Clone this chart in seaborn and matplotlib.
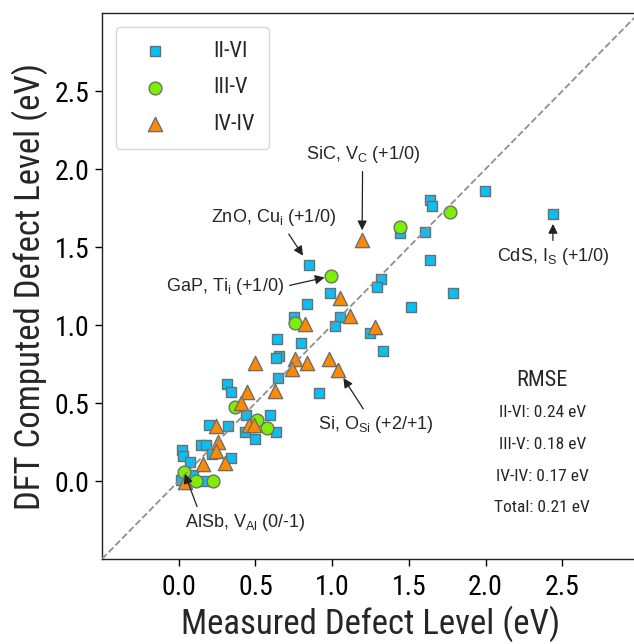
import matplotlib
matplotlib.use("Agg")
import numpy as np
import pandas as pd
import seaborn as sns
import matplotlib.pyplot as plt
from matplotlib import font_manager

# ---------------- data ----------------
ii_vi_measured = [1.995, 1.636, 1.65, 1.445, 1.604, 1.64, 2.44, 0.85, 1.32, 1.295,
                  1.79, 0.984, 0.836, 1.512, 1.05, 1.017, 1.245, 1.332, 0.75, 0.643,
                  0.795, 0.654, 0.637, 0.647, 0.915, 0.315, 0.343, 0.44, 0.593, 0.637,
                  0.43, 0.495, 0.195, 0.318, 0.148, 0.18, 0.22, 0.022, 0.028, 0.072,
                  0.343, 0.018, 0.09, 0.17]
ii_vi_dft = [1.86, 1.80, 1.76, 1.588, 1.598, 1.417, 1.71, 1.385, 1.293, 1.245,
             1.203, 1.203, 1.133, 1.117, 1.049, 0.996, 0.947, 0.833, 1.053, 0.91,
             0.887, 0.803, 0.787, 0.658, 0.562, 0.622, 0.572, 0.423, 0.423, 0.316,
             0.316, 0.27, 0.362, 0.35, 0.231, 0.231, 0.17, 0.199, 0.16, 0.124,
             0.146, 0.006, 0.04, 0.0]

iii_v_measured = [1.767, 1.445, 0.995, 0.76, 0.365, 0.51, 0.576, 0.033, 0.113, 0.226]
iii_v_dft = [1.726, 1.626, 1.314, 1.015, 0.476, 0.393, 0.342, 0.06, -0.002, -0.002]

iv_iv_measured = [1.195, 1.054, 1.115, 0.821, 1.278, 0.497, 0.756, 0.836, 0.741, 0.978,
                  1.039, 0.63, 0.443, 0.409, 0.46, 0.49, 0.241, 0.256, 0.246, 0.158,
                  0.304, 0.039]
iv_iv_dft = [1.545, 1.175, 1.06, 1.006, 0.989, 0.758, 0.78, 0.758, 0.718, 0.78,
             0.712, 0.579, 0.568, 0.498, 0.362, 0.362, 0.35, 0.252, 0.19, 0.111,
             0.115, -0.004]

group_names = ["II-VI", "III-V", "IV-IV"]
x_ticks = [0.0, 0.5, 1.0, 1.5, 2.0, 2.5]
y_ticks = [0.0, 0.5, 1.0, 1.5, 2.0, 2.5]
rmse_labels = ["II-VI: 0.24 eV", "III-V: 0.18 eV", "IV-IV: 0.17 eV", "Total: 0.21 eV"]

# ---------------- fonts ----------------
sns.set_style("ticks")
installed = {f.name for f in font_manager.fontManager.ttflist}
NARROW = "DejaVu Sans"
for cand in ["Roboto Condensed", "Archivo Narrow", "PT Sans Narrow", "Liberation Sans"]:
    if cand in installed:
        NARROW = cand
        break
REG = "Liberation Sans" if "Liberation Sans" in installed else "DejaVu Sans"
plt.rcParams["font.family"] = [NARROW, "DejaVu Sans"]
plt.rcParams["mathtext.default"] = "regular"

fig = plt.figure(figsize=(6.34, 6.44), dpi=100)
ax = fig.add_axes([102 / 634, 85 / 644, 537 / 634, 546 / 644])

df1 = pd.DataFrame({"m": ii_vi_measured, "d": ii_vi_dft})
df2 = pd.DataFrame({"m": iii_v_measured, "d": iii_v_dft})
df3 = pd.DataFrame({"m": iv_iv_measured, "d": iv_iv_dft})

edge = "#6e6e6e"
sns.scatterplot(data=df1, x="m", y="d", marker="s", s=62, color="#0ABFF5",
                edgecolor=edge, linewidth=1.0, label=group_names[0], ax=ax, zorder=3)
sns.scatterplot(data=df2, x="m", y="d", marker="o", s=85, color="#7CF000",
                edgecolor=edge, linewidth=1.0, label=group_names[1], ax=ax, zorder=4)
sns.scatterplot(data=df3, x="m", y="d", marker="^", s=105, color="#FF8A00",
                edgecolor=edge, linewidth=1.0, label=group_names[2], ax=ax, zorder=5)

ax.plot([-0.5, 3.0], [-0.5, 3.0], ls="--", color="#8f8f8f", lw=1.3, zorder=6)

ax.set_xlim(-0.5, 3.0)
ax.set_ylim(-0.5, 3.0)
ax.set_xticks(x_ticks)
ax.set_yticks(y_ticks)
ax.set_xticklabels([f"{v:.1f}" for v in x_ticks])
ax.set_yticklabels([f"{v:.1f}" for v in y_ticks])
ax.tick_params(direction="out", length=5, width=1, labelsize=20, colors="black")
ax.tick_params(axis="x", pad=6)
ax.tick_params(axis="y", pad=4)
for s in ax.spines.values():
    s.set_color("#222222")
    s.set_linewidth(1.0)
ax.set_xlabel("Measured Defect Level (eV)", fontsize=25, labelpad=3)
ax.set_ylabel("DFT Computed Defect Level (eV)", fontsize=25, labelpad=5)

leg = ax.legend(loc="upper left", prop={"family": NARROW, "size": 16}, borderpad=0.63,
                labelspacing=0.69, handlelength=2.25, handletextpad=1.5,
                borderaxespad=0.63, scatterpoints=1, frameon=True)

afont = dict(family=[REG, "DejaVu Sans"], fontsize=13)
arw = dict(arrowstyle="-|>", color="#222222", lw=0.9, mutation_scale=14)

ax.annotate("SiC, V$_{C}$ (+1/0)", xy=(1.195, 1.545), xytext=(1.199, 2.09),
            ha="center", va="center", zorder=10,
            arrowprops=dict(arw, shrinkA=2, shrinkB=7), **afont)
ax.annotate("ZnO, Cu$_{i}$ (+1/0)", xy=(0.85, 1.385), xytext=(0.62, 1.686),
            ha="center", va="center", zorder=10,
            arrowprops=dict(arw, shrinkA=2, shrinkB=8, relpos=(0.59, 0.0)), **afont)
ax.annotate("GaP, Ti$_{i}$ (+1/0)", xy=(0.995, 1.314), xytext=(0.299, 1.245),
            ha="center", va="center", zorder=10,
            arrowprops=dict(arw, shrinkA=2, shrinkB=5, relpos=(1.0, 0.5)), **afont)
ax.annotate("Si, O$_{Si}$ (+2/+1)", xy=(1.039, 0.712), xytext=(1.287, 0.359),
            ha="center", va="center", zorder=10,
            arrowprops=dict(arw, shrinkA=2, shrinkB=7, relpos=(0.42, 1.0)), **afont)
ax.annotate("AlSb, V$_{Al}$ (0/-1)", xy=(0.04, 0.045), xytext=(0.433, -0.269),
            ha="center", va="center", zorder=10,
            arrowprops=dict(arw, shrinkA=2, shrinkB=0, relpos=(0.12, 1.0)), **afont)
ax.annotate("CdS, I$_{S}$ (+1/0)", xy=(2.44, 1.71), xytext=(2.438, 1.436),
            ha="center", va="center", zorder=10,
            arrowprops=dict(arw, shrinkA=2, shrinkB=7), **afont)

ax.text(2.37, 0.647, "RMSE", ha="center", va="center", fontsize=16, family=NARROW)
for lab, yy in zip(rmse_labels, [0.436, 0.231, 0.032, -0.167]):
    ax.text(2.37, yy, lab, ha="center", va="center", fontsize=12.5, family=NARROW)

fig.savefig("out.png", dpi=100)
